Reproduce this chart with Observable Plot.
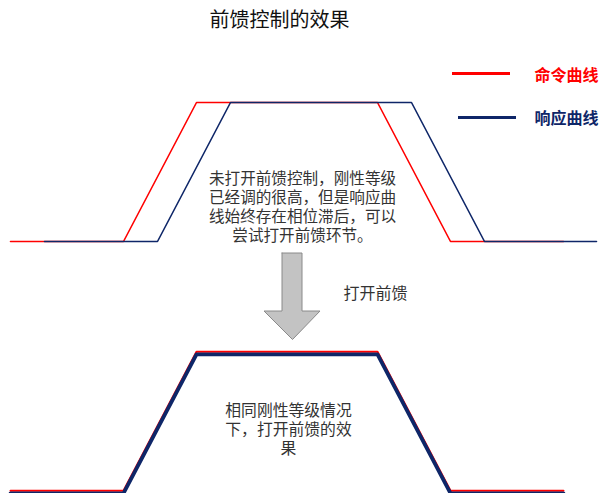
<!DOCTYPE html>
<html>
<head>
<meta charset="utf-8">
<script src="https://cdn.jsdelivr.net/npm/d3@7"></script>
<script src="https://cdn.jsdelivr.net/npm/@observablehq/plot@0.6"></script>
<style>
  html, body { margin: 0; padding: 0; background: #fff; }
  #chart svg { display: block; }
</style>
</head>
<body>
<div id="chart"></div>
<script>
// ---- data ----
const title = "前馈控制的效果";
const seriesNames = ["命令曲线", "响应曲线"];
const seriesColors = ["#ff0000", "#0e2668"];
// command profile (time, level)
const cmdTime  = [0, 113, 186, 367, 440, 553];
const cmdLevel = [0, 0, 1, 1, 0, 0];
// response without feed-forward: lags the command
const respTime  = [34, 147, 220, 401, 474, 586];
const respLevel = [0, 0, 1, 1, 0, 0];
// response with feed-forward: follows the command
const ffTime  = [0, 113, 186, 367, 440, 553];
const ffLevel = [0, 0, 1, 1, 0, 0];
const noteTop = "未打开前馈控制，刚性等级\n已经调的很高，但是响应曲\n线始终存在相位滞后，可以\n尝试打开前馈环节。";
const noteArrow = "打开前馈";
const noteBottom = "相同刚性等级情况\n下，打开前馈的效\n果";

// ---- layout helpers (pixel -> scale units) ----
const UNIT = 139;          // px per level unit
const BASE = 241;          // top panel baseline pixel
const X = px => px - 10;
const Y = py => (BASE - py) / UNIT;
const PANEL2 = Y(490.3);   // level offset of the lower panel

const pts = (t, l, off = 0) => t.map((d, i) => ({t: d, v: l[i] + off}));
const top_cmd = pts(cmdTime, cmdLevel);
const top_resp = pts(respTime, respLevel);
const bot_cmd = pts(cmdTime, cmdLevel, PANEL2);
const bot_resp = pts(ffTime, ffLevel, PANEL2);

const arrow = [[281.5,252.5],[301.5,252.5],[301.5,310.5],[319.5,310.5],[292,339],[263.5,310.5],[281.5,310.5],[281.5,252.5]]
  .map(([a, b]) => ({t: X(a), v: Y(b)}));

const font = "'Noto Sans CJK SC', sans-serif";

const chart = Plot.plot({
  width: 600,
  height: 493,
  margin: 0,
  x: {domain: [X(0), X(600)], range: [0, 600], axis: null},
  y: {domain: [Y(493), Y(0)], range: [493, 0], axis: null},
  style: {fontFamily: font, background: "#fff"},
  marks: [
    // top panel
    Plot.line(top_cmd, {x: "t", y: "v", stroke: seriesColors[0], strokeWidth: 1.6}),
    Plot.line(top_resp, {x: "t", y: "v", stroke: seriesColors[1], strokeWidth: 1.6}),
    // bottom panel
    Plot.line(bot_cmd, {x: "t", y: "v", stroke: seriesColors[0], strokeWidth: 2}),
    Plot.line(bot_resp, {x: "t", y: "v", stroke: seriesColors[1], strokeWidth: 3.8, dy: 2.5}),
    // arrow
    Plot.line(arrow, {x: "t", y: "v", fill: "#c3c3c3", stroke: "#8a8a8a", strokeWidth: 1}),
    // legend
    Plot.ruleY([0, 1], {y: i => Y([73, 117][i]), x1: i => X([452, 458][i]), x2: i => X([510, 516][i]),
      stroke: i => seriesColors[i], strokeWidth: 3}),
    Plot.text([0, 1], {x: X(534), y: i => Y([75, 118][i]), text: i => seriesNames[i],
      fill: i => seriesColors[i], textAnchor: "start", fontSize: 16, fontWeight: "bold"}),
    // title
    Plot.text([title], {x: X(279), y: Y(20), text: d => d, fontSize: 20, fill: "#111"}),
    // annotations
    Plot.text([noteTop], {x: X(302), y: Y(205.5), text: d => d, fontSize: 15.6, lineHeight: 1.22, fill: "#333", textAnchor: "middle"}),
    Plot.text([noteArrow], {x: X(375), y: Y(293), text: d => d, fontSize: 16, fill: "#333"}),
    Plot.text([noteBottom], {x: X(288), y: Y(428.5), text: d => d, fontSize: 15.8, lineHeight: 1.18, fill: "#333", textAnchor: "middle"})
  ]
});
document.getElementById("chart").appendChild(chart);
</script>
</body>
</html>
